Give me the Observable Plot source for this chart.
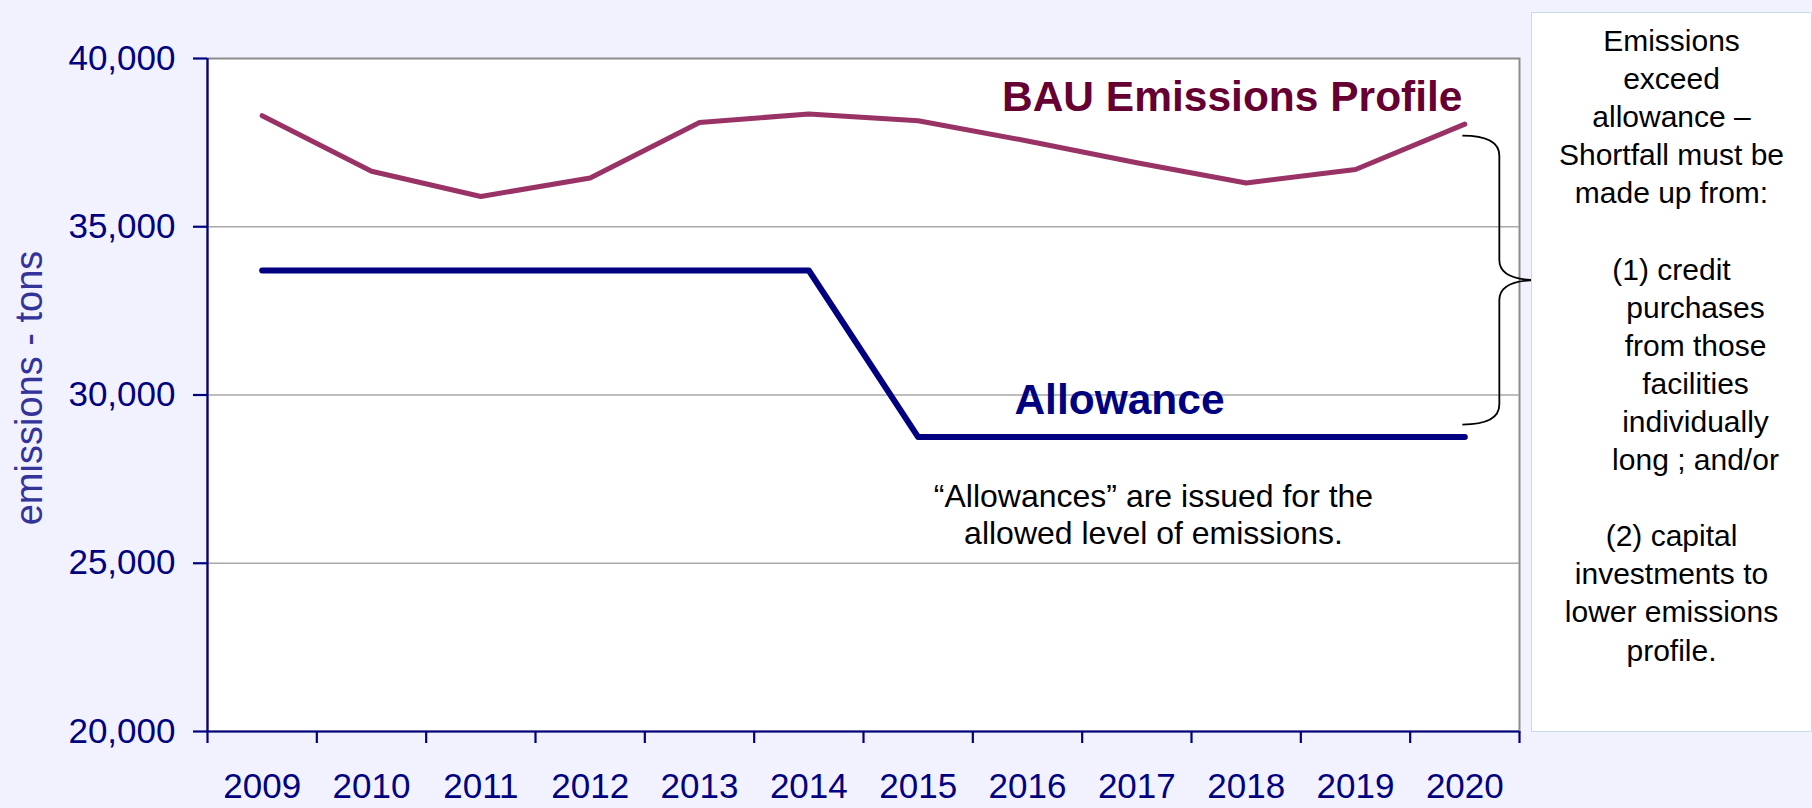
<!DOCTYPE html>
<html>
<head>
<meta charset="utf-8">
<script src="https://cdn.jsdelivr.net/npm/d3@7"></script>
<script src="https://cdn.jsdelivr.net/npm/@observablehq/plot@0.6"></script>
<style>
  html, body { margin: 0; padding: 0; background: #f2f2fe; }
  #wrap { position: relative; width: 1812px; height: 808px; overflow: hidden; font-family: "Liberation Sans", Arial, sans-serif; }
  #chart { position: absolute; left: 0; top: 0; }
  #note {
    position: absolute; left: 1531px; top: 12px; width: 281px; height: 720px;
    background: #ffffff; border: 1.5px solid #bfe0e8; box-sizing: border-box;
    color: #000; font-size: 30px; line-height: 38.1px; text-align: center;
    padding-top: 9px;
  }
  #note .ind { padding-left: 48px; }
  #note .gap { height: 38.1px; }
</style>
</head>
<body>
<div id="wrap">
  <div id="chart"></div>
  <div id="note">
    <div>Emissions</div>
    <div>exceed</div>
    <div>allowance –</div>
    <div>Shortfall must be</div>
    <div>made up from:</div>
    <div class="gap"></div>
    <div>(1) credit</div>
    <div class="ind">purchases</div>
    <div class="ind">from those</div>
    <div class="ind">facilities</div>
    <div class="ind">individually</div>
    <div class="ind">long ; and/or</div>
    <div class="gap"></div>
    <div>(2) capital</div>
    <div>investments to</div>
    <div>lower emissions</div>
    <div>profile.</div>
  </div>
</div>
<script>
const years = [2009, 2010, 2011, 2012, 2013, 2014, 2015, 2016, 2017, 2018, 2019, 2020];
const bauEmissions = [38300, 36650, 35900, 36450, 38100, 38350, 38150, 37550, 36900, 36300, 36700, 38050];
const allowance = [33700, 33700, 33700, 33700, 33700, 33700, 28750, 28750, 28750, 28750, 28750, 28750];
const yTicks = [20000, 25000, 30000, 35000, 40000];
const gridTicks = [25000, 30000, 35000];
const bandEdges = [2008.5, 2009.5, 2010.5, 2011.5, 2012.5, 2013.5, 2014.5, 2015.5, 2016.5, 2017.5, 2018.5, 2019.5, 2020.5];

const bauLabel = "BAU Emissions Profile";
const allowLabel = "Allowance";
const allowNote = "“Allowances” are issued for the\nallowed level of emissions.";
const yTitle = "emissions - tons";

const bauData = years.map((year, i) => ({year, value: bauEmissions[i]}));
const allowData = years.map((year, i) => ({year, value: allowance[i]}));

const NAVY = "#000080";
const FONT = "'Liberation Sans', Arial, sans-serif";

const plot = Plot.plot({
  width: 1812,
  height: 808,
  marginLeft: 207,
  marginRight: 293,
  marginTop: 58,
  marginBottom: 77,
  style: {background: "transparent", fontFamily: FONT, overflow: "visible"},
  x: {type: "linear", domain: [2008.5, 2020.5], label: null},
  y: {domain: [20000, 40000], label: null},
  marks: [
    Plot.frame({fill: "white", stroke: "#8c8c8c", strokeWidth: 2}),
    Plot.ruleY(gridTicks, {stroke: "#a8a8a8", strokeWidth: 1.6}),
    Plot.ruleY([20000], {stroke: NAVY, strokeWidth: 2.2}),
    Plot.ruleX([2008.5], {stroke: NAVY, strokeWidth: 2.2}),
    Plot.axisY({ticks: yTicks, tickSize: 14, tickPadding: 18, tickFormat: d3.format(","),
      fontSize: 35, stroke: NAVY, fill: NAVY, strokeWidth: 2.2, label: null}),
    Plot.axisX({ticks: bandEdges, tickSize: 12, tickFormat: () => "", stroke: NAVY, strokeWidth: 2.2, label: null}),
    Plot.axisX({ticks: years, tickSize: 0, tickPadding: 42, tickFormat: d => String(d),
      fontSize: 35, fill: NAVY, label: null}),
    Plot.text([yTitle], {text: d => d, frameAnchor: "left", textAnchor: "middle", rotate: -90, dx: -178, dy: -7,
      fontSize: 38, fill: "#333399"}),
    Plot.line(allowData, {x: "year", y: "value", stroke: NAVY, strokeWidth: 6,
      strokeLinecap: "round", strokeLinejoin: "round"}),
    Plot.line(bauData, {x: "year", y: "value", stroke: "#993366", strokeWidth: 5,
      strokeLinecap: "round", strokeLinejoin: "round"}),
    Plot.text([bauLabel], {text: d => d, frameAnchor: "top-right", textAnchor: "end", lineAnchor: "bottom",
      dx: -57, dy: 52, fontSize: 42.5, fontWeight: "bold", fill: "#660033"}),
    Plot.text([allowLabel], {text: d => d, frameAnchor: "top-left", textAnchor: "middle", lineAnchor: "bottom",
      dx: 912, dy: 355, fontSize: 42.5, fontWeight: "bold", fill: NAVY}),
    Plot.text([allowNote], {text: d => d, frameAnchor: "top-left", textAnchor: "middle", lineAnchor: "bottom",
      dx: 946, dy: 485, fontSize: 32, lineHeight: 1.15, fill: "#000"})
  ]
});

document.getElementById("chart").appendChild(plot);

// Curly brace linking the gap between the two series at the last year
const sx = plot.scale("x").apply;
const sy = plot.scale("y").apply;
const last = years.length - 1;
const x0 = sx(years[last]) - 2;
const xv = x0 + 37;
const xt = x0 + 75;
const yTop = sy(bauEmissions[last]) + 12;
const yBot = sy(allowance[last]) - 12;
const yMid = (yTop + yBot) / 2;
const r = 20;
const p = d3.path();
p.moveTo(x0, yTop);
p.bezierCurveTo(x0 + 28, yTop, xv, yTop + 8, xv, yTop + r);
p.lineTo(xv, yMid - r);
p.bezierCurveTo(xv, yMid - 6, xv + 14, yMid, xt, yMid);
p.bezierCurveTo(xv + 14, yMid, xv, yMid + 6, xv, yMid + r);
p.lineTo(xv, yBot - r);
p.bezierCurveTo(xv, yBot - 8, x0 + 28, yBot, x0, yBot);
d3.select(plot).append("path")
  .attr("d", p.toString())
  .attr("fill", "none")
  .attr("stroke", "#000")
  .attr("stroke-width", 1.8);
</script>
</body>
</html>
